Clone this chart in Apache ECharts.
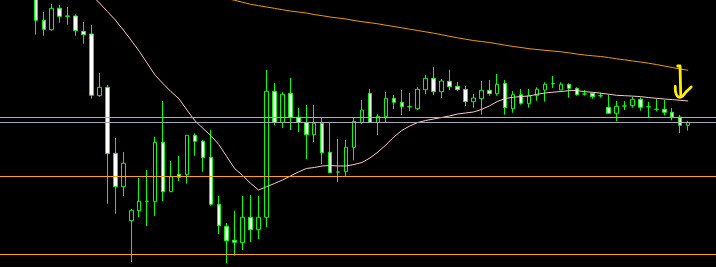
<!DOCTYPE html>
<html>
<head>
<meta charset="utf-8">
<script src="https://cdn.jsdelivr.net/npm/echarts@6/dist/echarts.min.js"></script>
<style>
html,body{margin:0;padding:0;background:#000;}
#chart{width:716px;height:267px;}
</style>
</head>
<body>
<div id="chart"></div>
<script>
// Price values (points)
const candleOpen = [272,246.7,237.3,258.7,251,251,235.7,233,171.3,179.7,
113.7,80.3,46.3,56.3,65.7,65.3,124.7,75.3,92.7,92.3,
131.7,125.7,109.7,62.7,40.7,26.7,24.3,49.7,37.3,49.7,
175.7,144.7,173.7,149.7,144.3,132.3,143.7,114.7,95,95.3,
119.7,144.7,173.7,144.7,150.3,168.7,164.7,160.3,158.3,177.3,
188.7,175.3,185.7,180.7,177.7,165.3,168.3,176.7,173.3,183.7,
158.3,172.3,163.3,171.3,177,183.3,177,182.7,178.7,173,
173.7,171.3,159.7,153.7,161,161.3,167.7,160.3,157.7,157.7,
154.7,150,141.7];
const candleClose = [246.7,237.7,258.7,250.7,250.7,236.3,232.3,171.7,179.7,113.3,
80.3,103.7,56.7,65.7,65.7,124.7,75.3,90.3,89.7,131.7,
125.7,109.3,62.7,41.3,26.3,24.7,49.7,37.3,49.7,175.7,
144.7,172.7,149.7,144.7,132.3,143.7,114.3,94.3,95,119.7,
145.7,157,144.7,150.7,168.7,164.7,160.3,160.3,177.7,188.7,
175.3,186,180.3,177.3,165.3,169,176.7,173.3,182.7,159.3,
172.3,163.7,171.3,177.7,182.7,183.3,182.7,178.7,172.3,173,
170.3,171.3,153.7,160.7,161,167.7,159.7,160.3,157.7,154.7,
150,141.7,144.3];
const candleLow = [232.3,231.3,236.3,244.3,242.3,231.3,223.3,168.3,170.3,63.3,
53.3,71,5,50,41,51,66,75.3,86,83.3,
111.3,95.3,61.3,33,3.7,11.3,17,25,28,40,
142,139,137,135,108,125,103,94.3,85,91,
106.7,143,144.7,132,144.7,158,152,156,157,173,
172,169,177,176,161,159.3,152.3,171.3,171.3,152.3,
154.3,162.3,159.3,166.3,165.3,179,177,169.3,171.3,171.3,
168.3,169.3,153.7,146,157,159.3,156.3,150,155.7,151.7,
146.7,134,136.3];
const candleHigh = [275,255,263,262,260,252.7,245,242,194,182,
129,115,58,89,97,130.3,166,106,111,131.7,
133.7,127,137,71,44,56.3,71,72,71,197,
184,174.7,189,159,162,162,149.7,144.3,128,127,
149.7,167,178,153,175,172,177,174,179.7,192,
200,188,197.3,185,181,173,186,187,193,187,
176,178,178,179.7,184.7,191,184.7,183.7,179.7,177,
174.3,174.3,172.3,166,166,170.3,169.7,165,168.3,167,
159,152,146];
// Moving averages (start index within the candle list)
const maFastStart = 7;
const maFast = [272,264,255.5,247,237,226.6,215.8,203.8,191.8,183.3,
175.3,168.2,157,146.3,138.7,131.5,122.5,110.5,98.4,91.5,
83.7,77,80.3,83.5,87,91,95,98.5,99.5,101,
101.5,101,101,102.5,104.5,109,115,122,130,136.5,
141,144.5,146.5,148,149.5,151,153,154,155,157.5,
161,165.5,168.5,169.7,170.5,171,172.7,174,174.8,175.5,
176.3,176.5,175.3,174.7,173.8,172.8,171.7,171.3,170.9,170.4,
169.5,168.7,168,167.4,166.7,166];
const maSlowStart = 24;
const maSlow = [268.5,266.7,264.7,262.7,261.3,260,258.7,257.3,256,255,
254,252.5,251.3,250,249,248,246.5,245.3,244.3,243.2,
241.8,240.5,239.2,237.8,236.5,235.2,233.8,232.3,230.7,229.2,
227.8,226.5,225.5,224.5,223.2,221.8,220.5,219.5,218.3,217.5,
216.7,216,215.2,214.2,213,212,211.2,210.5,209.5,208.2,
207.2,206,205,203.8,202.5,201,199.5,198,196.7];
// Horizontal price levels
const levelValues = [149.5, 144.5, 90.5, 12.5];
const levelColors = ['#ffa500', '#a3a8b8', '#ffa500', '#ffa500'];
// Hand-drawn arrow (category index, price)
const arrowStem = [[84.69,201],[84.98,201],[85.01,190],[85.07,171]];
const arrowHook = [[84.38,180.5],[84.42,175],[84.63,171],[84.94,169.7],[85.32,171],[85.73,175],[86.38,180]];

const padLeft = 4, padRight = 3;
const nCandles = candleOpen.length;
const nCats = padLeft + nCandles + padRight;
const categories = [];
for (let i = 0; i < nCats; i++) categories.push('B' + i);

const candleData = [];
for (let i = 0; i < nCats; i++) {
  const k = i - padLeft;
  if (k >= 0 && k < nCandles) candleData.push([candleOpen[k], candleClose[k], candleLow[k], candleHigh[k]]);
  else candleData.push('-');
}
function padMA(arr, start) {
  const out = [];
  for (let i = 0; i < nCats; i++) {
    const k = i - padLeft - start;
    out.push(k >= 0 && k < arr.length ? arr[k] : '-');
  }
  return out;
}

const chart = echarts.init(document.getElementById('chart'), null, {renderer: 'canvas'});
chart.setOption({
  backgroundColor: '#000000',
  animation: false,
  grid: {left: -1.5, right: -2.5, top: 0, bottom: 0, containLabel: false},
  xAxis: [
    {type: 'category', data: categories, boundaryGap: true, show: false},
    {type: 'value', min: -0.5, max: nCats - 0.5, show: false}
  ],
  yAxis: {type: 'value', min: 0, max: 267, show: false, splitLine: {show: false}},
  series: [
    {
      type: 'candlestick',
      data: candleData,
      barWidth: 4,
      clip: true,
      itemStyle: {color: '#000000', color0: '#ffffff', borderColor: '#00ff00', borderColor0: '#00ff00', borderWidth: 1},
      emphasis: {disabled: true},
      markLine: {
        silent: true,
        symbol: ['none', 'none'],
        label: {show: false},
        emphasis: {disabled: true},
        data: levelValues.map((v, i) => ({yAxis: v, lineStyle: {color: levelColors[i], width: 1, type: 'solid'}}))
      },
      z: 3
    },
    {
      type: 'line', data: padMA(maFast, maFastStart), showSymbol: false, symbol: 'none',
      lineStyle: {color: '#ffc4cc', width: 1}, z: 4, silent: true
    },
    {
      type: 'line', data: padMA(maSlow, maSlowStart), showSymbol: false, symbol: 'none',
      lineStyle: {color: '#f0960f', width: 1}, z: 4, silent: true
    },
    {
      type: 'line', xAxisIndex: 1, data: arrowStem, showSymbol: false, symbol: 'none',
      lineStyle: {color: '#ffee00', width: 2.8, cap: 'round', join: 'round'}, z: 6, silent: true
    },
    {
      type: 'line', xAxisIndex: 1, data: arrowHook, showSymbol: false, symbol: 'none', smooth: 0.3,
      lineStyle: {color: '#ffee00', width: 2.8, cap: 'round', join: 'round'}, z: 6, silent: true
    }
  ]
});
</script>
</body>
</html>
